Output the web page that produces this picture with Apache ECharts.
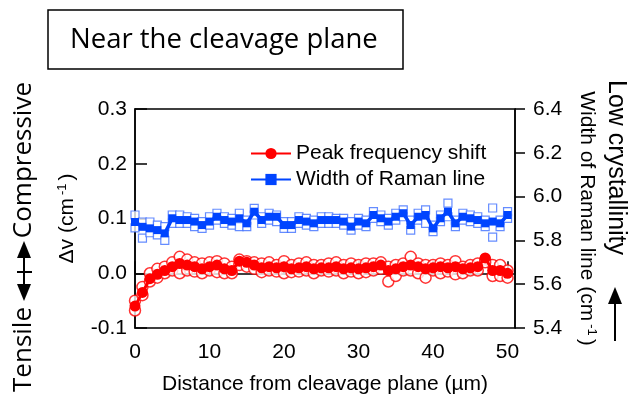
<!DOCTYPE html>
<html>
<head>
<meta charset="utf-8">
<script src="https://cdn.jsdelivr.net/npm/echarts@6/dist/echarts.min.js"></script>
<style>
  html, body { margin: 0; padding: 0; background: #fff; }
  #chart { width: 637px; height: 394px; }
</style>
</head>
<body>
<div id="chart"></div>
<script>
// 位置 (µm)
const distance = [0, 1, 2, 3, 4, 5, 6, 7, 8, 9, 10, 11, 12, 13, 14, 15, 16, 17, 18, 19, 20,
  21, 22, 23, 24, 25, 26, 27, 28, 29, 30, 31, 32, 33, 34, 35, 36, 37, 38, 39, 40,
  41, 42, 43, 44, 45, 46, 47, 48, 49, 50];

// 峰位移 平均
const peakShift = [-0.06, -0.035, -0.01, -0.002, 0.005, 0.012, 0.018, 0.015, 0.012, 0.008, 0.012,
  0.015, 0.008, 0.005, 0.022, 0.02, 0.015, 0.01, 0.012, 0.01, 0.012,
  0.008, 0.01, 0.012, 0.008, 0.01, 0.01, 0.012, 0.008, 0.01, 0.008,
  0.01, 0.012, 0.015, 0.005, 0.008, 0.012, 0.015, 0.012, 0.008, 0.01,
  0.012, 0.01, 0.012, 0.008, 0.01, 0.012, 0.028, 0.005, 0.005, 0.0];
// 峰位移 测量点
const peakShiftHi = [-0.05, -0.025, 0.0, 0.008, 0.012, 0.02, 0.03, 0.025, 0.02, 0.018, 0.02,
  0.022, 0.018, 0.012, 0.025, 0.022, 0.02, 0.018, 0.02, 0.015, 0.022,
  0.015, 0.018, 0.02, 0.015, 0.015, 0.018, 0.02, 0.015, 0.018, 0.015,
  0.018, 0.018, 0.02, 0.012, 0.015, 0.018, 0.03, 0.018, 0.015, 0.015,
  0.018, 0.015, 0.022, 0.012, 0.015, 0.018, 0.025, 0.015, 0.015, 0.005];
const peakShiftLo = [-0.068, -0.04, -0.015, -0.008, 0.0, 0.005, 0.0, 0.005, 0.003, 0.0, 0.005,
  0.002, 0.0, 0.0, 0.015, 0.012, 0.008, 0.002, 0.005, 0.003, 0.0,
  0.002, 0.003, 0.005, 0.0, 0.005, 0.003, 0.005, 0.0, 0.003, 0.0,
  0.002, 0.005, 0.008, -0.015, -0.005, 0.005, 0.005, 0.0, -0.008, 0.005,
  0.0, 0.003, -0.002, 0.0, 0.005, 0.005, 0.02, -0.005, -0.005, -0.008];

// 拉曼线宽 平均
const ramanWidth = [5.884, 5.862, 5.855, 5.847, 5.832, 5.901, 5.893, 5.893, 5.886, 5.870, 5.886,
  5.908, 5.893, 5.886, 5.901, 5.878, 5.931, 5.893, 5.908, 5.908, 5.870,
  5.870, 5.893, 5.886, 5.878, 5.893, 5.893, 5.893, 5.886, 5.863, 5.886,
  5.878, 5.916, 5.901, 5.886, 5.908, 5.924, 5.870, 5.908, 5.916, 5.855,
  5.901, 5.931, 5.878, 5.908, 5.901, 5.893, 5.878, 5.886, 5.878, 5.916];
// 拉曼线宽 测量点
const ramanWidthHi = [5.916, 5.884, 5.884, 5.870, 5.863, 5.916, 5.916, 5.908, 5.901, 5.886, 5.908,
  5.924, 5.908, 5.901, 5.924, 5.893, 5.946, 5.908, 5.924, 5.916, 5.886,
  5.886, 5.908, 5.901, 5.893, 5.908, 5.908, 5.901, 5.901, 5.886, 5.901,
  5.893, 5.931, 5.916, 5.901, 5.924, 5.939, 5.893, 5.924, 5.939, 5.870,
  5.916, 5.970, 5.893, 5.924, 5.916, 5.908, 5.893, 5.948, 5.893, 5.931];
const ramanWidthLo = [5.857, 5.81, 5.835, 5.825, 5.80, 5.878, 5.878, 5.878, 5.863, 5.855, 5.870,
  5.893, 5.878, 5.870, 5.863, 5.863, 5.916, 5.878, 5.893, 5.886, 5.855,
  5.855, 5.878, 5.870, 5.863, 5.878, 5.878, 5.878, 5.870, 5.847, 5.870,
  5.863, 5.901, 5.886, 5.870, 5.893, 5.908, 5.847, 5.893, 5.878, 5.840,
  5.886, 5.908, 5.863, 5.893, 5.886, 5.878, 5.863, 5.815, 5.863, 5.901];

const legendNames = ["Peak frequency shift", "Width of Raman line"];

const RED = "#ff0000";
const BLUE = "#0044ff";
const BLUE_LIGHT = "#3f6fff";
const SANS = "'Liberation Sans', Arial, sans-serif";
const TITLE_FONT = "'Open Sans', 'Noto Sans', sans-serif";
const FS = 21;

//组合 x,y
const pairs = (ys) => distance.map((x, i) => [x, ys[i]]);

const chart = echarts.init(document.getElementById("chart"));

const hollowCircle = (data) => ({
  type: "scatter",
  yAxisIndex: 0,
  data: pairs(data),
  symbol: "circle",
  symbolSize: 11,
  itemStyle: { color: "#fff", borderColor: RED, borderWidth: 1.5 },
  silent: true,
});
const hollowRect = (data) => ({
  type: "scatter",
  yAxisIndex: 1,
  data: pairs(data),
  symbol: "rect",
  symbolSize: 8,
  itemStyle: { color: "#fff", borderColor: BLUE_LIGHT, borderWidth: 1.2 },
  silent: true,
});

const supRich = {
  a: { fontFamily: SANS, fontSize: FS, color: "#000" },
  s: { fontFamily: SANS, fontSize: 13, color: "#000", verticalAlign: "top", padding: [0, 3, 10, 3] },
};

chart.setOption({
  animation: false,
  grid: {
    left: 135,
    right: 122,
    top: 109,
    bottom: 66,
    outerBoundsMode: "none",
    show: true,
    borderColor: "#000",
    borderWidth: 1.5,
  },
  legend: {
    data: legendNames,
    orient: "vertical",
    left: 245,
    top: 138,
    itemWidth: 40,
    itemHeight: 14,
    itemGap: 5,
    textStyle: { fontFamily: SANS, fontSize: FS, color: "#000" },
  },
  xAxis: {
    type: "value",
    min: 0,
    max: 51,
    interval: 10,
    name: "Distance from cleavage plane (µm)",
    nameLocation: "middle",
    nameGap: 46,
    nameTextStyle: { fontFamily: SANS, fontSize: FS, color: "#000" },
    axisLine: { lineStyle: { color: "#000", width: 1.5 } },
    axisTick: { inside: true, length: 12, lineStyle: { color: "#000", width: 1.5 } },
    axisLabel: {
      fontFamily: SANS,
      fontSize: FS,
      color: "#000",
      margin: 14,
      formatter: (v) => (v % 10 === 0 ? String(v) : ""),
    },
    splitLine: { show: false },
  },
  yAxis: [
    {
      type: "value",
      min: -0.1,
      max: 0.3,
      interval: 0.1,
      name: "{a|Δv (cm}{s|-1}{a|)}",
      nameLocation: "middle",
      nameGap: 56,
      nameTextStyle: { rich: supRich },
      axisLine: { show: true, lineStyle: { color: "#000", width: 1.5 } },
      axisTick: { show: true, inside: true, length: 12, lineStyle: { color: "#000", width: 1.5 } },
      axisLabel: {
        fontFamily: SANS,
        fontSize: FS,
        color: "#000",
        margin: 8,
        formatter: (v) => v.toFixed(1),
      },
      splitLine: { show: false },
    },
    {
      type: "value",
      position: "right",
      min: 5.4,
      max: 6.4,
      interval: 0.2,
      name: "{a|Width of Raman line (cm}{s|-1}{a|)}",
      nameLocation: "middle",
      nameRotate: -90,
      nameGap: 60,
      nameTextStyle: { rich: supRich },
      axisLine: { show: true, lineStyle: { color: "#000", width: 1.5 } },
      axisTick: { show: true, inside: false, length: 10, lineStyle: { color: "#000", width: 1.5 } },
      axisLabel: {
        fontFamily: SANS,
        fontSize: FS,
        color: "#000",
        margin: 18,
        formatter: (v) => v.toFixed(1),
      },
      splitLine: { show: false },
    },
  ],
  series: [
    hollowRect(ramanWidthHi),
    hollowRect(ramanWidthLo),
    {
      name: legendNames[1],
      type: "line",
      yAxisIndex: 1,
      data: pairs(ramanWidth),
      symbol: "rect",
      symbolSize: 8,
      color: BLUE,
      lineStyle: { color: BLUE, width: 3.5 },
    },
    hollowCircle(peakShiftHi),
    hollowCircle(peakShiftLo),
    {
      name: legendNames[0],
      type: "line",
      yAxisIndex: 0,
      data: pairs(peakShift),
      symbol: "circle",
      symbolSize: 11,
      color: RED,
      lineStyle: { color: RED, width: 3 },
    },
  ],
  graphic: [
    // 标题框
    {
      type: "rect",
      shape: { x: 48, y: 10, width: 355, height: 59 },
      style: { fill: "#fff", stroke: "#000", lineWidth: 1.5 },
    },
    {
      type: "text",
      x: 70,
      y: 40,
      style: { text: "Near the cleavage plane", font: "27.5px " + TITLE_FONT, fill: "#000", verticalAlign: "middle" },
    },
    // 左侧 Tensile ↔ Compressive
    {
      type: "text",
      x: 24,
      y: 82,
      rotation: Math.PI / 2,
      style: { text: "Compressive", font: "26px " + TITLE_FONT, fill: "#000", align: "right", verticalAlign: "middle" },
    },
    {
      type: "text",
      x: 24,
      y: 307,
      rotation: Math.PI / 2,
      style: { text: "Tensile", font: "26px " + TITLE_FONT, fill: "#000", align: "right", verticalAlign: "middle" },
    },
    {
      type: "line",
      shape: { x1: 24, y1: 250, x2: 24, y2: 292 },
      style: { stroke: "#000", lineWidth: 2 },
    },
    {
      type: "line",
      shape: { x1: 17, y1: 272, x2: 32, y2: 272 },
      style: { stroke: "#000", lineWidth: 2 },
    },
    {
      type: "polygon",
      shape: { points: [[24, 241], [17, 258], [31, 258]] },
      style: { fill: "#000" },
    },
    {
      type: "polygon",
      shape: { points: [[24, 301], [17, 284], [31, 284]] },
      style: { fill: "#000" },
    },
    // 右侧 Low crystallinity ↑
    {
      type: "text",
      x: 616,
      y: 80,
      rotation: -Math.PI / 2,
      style: { text: "Low crystallinity", font: "25px " + SANS, fill: "#000", align: "left", verticalAlign: "middle" },
    },
    {
      type: "line",
      shape: { x1: 615, y1: 300, x2: 615, y2: 341 },
      style: { stroke: "#000", lineWidth: 2 },
    },
    {
      type: "polygon",
      shape: { points: [[615, 287], [608, 304], [622, 304]] },
      style: { fill: "#000" },
    },
  ],
});
</script>
</body>
</html>
